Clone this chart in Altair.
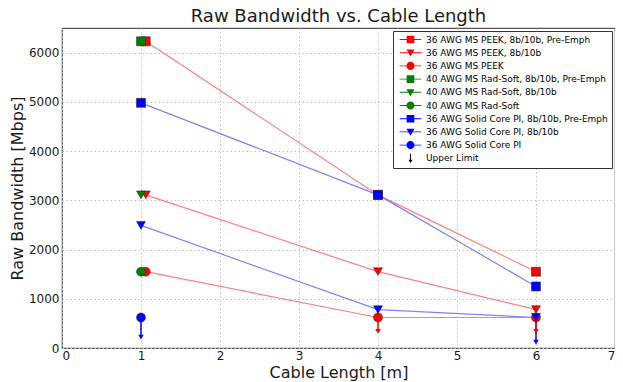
import altair as alt
import pandas as pd

series_names = [
    "36 AWG MS PEEK, 8b/10b, Pre-Emph",
    "36 AWG MS PEEK, 8b/10b",
    "36 AWG MS PEEK",
    "40 AWG MS Rad-Soft, 8b/10b, Pre-Emph",
    "40 AWG MS Rad-Soft, 8b/10b",
    "40 AWG MS Rad-Soft",
    "36 AWG Solid Core PI, 8b/10b, Pre-Emph",
    "36 AWG Solid Core PI, 8b/10b",
    "36 AWG Solid Core PI",
    "Upper Limit",
]

# Data
peek_length = [1.06, 4, 6]
peek_pre = [6230, 3110, 1550]
peek_8b = [3110, 1550, 780]
peek_plain = [1550, 620, 620]
radsoft_length = [1]
radsoft_pre = [6230]
radsoft_8b = [3110]
radsoft_plain = [1550]
pi_length = [1, 4, 6]
pi_pre = [4980, 3110, 1250]
pi_8b = [2490, 780, 620]
pi_plain_length = [1]
pi_plain = [620]

limit_series = ["36 AWG Solid Core PI", "36 AWG Solid Core PI", "36 AWG MS PEEK", "36 AWG MS PEEK"]
limit_length = [1, 6, 4, 6]
limit_top = [620, 620, 620, 620]
limit_bottom = [220, 120, 340, 340]

x_ticks = [0, 1, 2, 3, 4, 5, 6, 7]
y_ticks = [0, 1000, 2000, 3000, 4000, 5000, 6000]

# Styles
marker_colors = ["#ff0000", "#ff0000", "#ff0000", "#007f00", "#007f00", "#007f00",
                 "#0000ff", "#0000ff", "#0000ff", "#000000"]
line_colors = ["#ff8080", "#ff8080", "#ff8080", "#80bf80", "#80bf80", "#80bf80",
               "#8080ff", "#8080ff", "#8080ff", "#000000"]
marker_shapes = ["square", "triangle-down", "circle"] * 3 + ["triangle-down"]

LINE = "M-2.4,-0.1H2.4V0.1H-2.4Z"
SQ = "M-0.85,-0.85H0.85V0.85H-0.85Z"
TRI = "M-0.9,-0.7L0.9,-0.7L0,0.85Z"
CIRC = "M0.9,0A0.9,0.9,0,1,1,-0.9,0A0.9,0.9,0,1,1,0.9,0Z"
ARROW = "M-0.11,-1.0H0.11V0.4H-0.11Z M-0.45,0.3L0.45,0.3L0,1.05Z"
legend_shapes = [LINE + SQ, LINE + TRI, LINE + CIRC] * 3 + [ARROW]


def rows(name, xs, ys):
    return [{"series": name, "length": x, "bw": y} for x, y in zip(xs, ys)]


pts = pd.DataFrame(
    rows(series_names[0], peek_length, peek_pre)
    + rows(series_names[1], peek_length, peek_8b)
    + rows(series_names[2], peek_length, peek_plain)
    + rows(series_names[3], radsoft_length, radsoft_pre)
    + rows(series_names[4], radsoft_length, radsoft_8b)
    + rows(series_names[5], radsoft_length, radsoft_plain)
    + rows(series_names[6], pi_length, pi_pre)
    + rows(series_names[7], pi_length, pi_8b)
    + rows(series_names[8], pi_plain_length, pi_plain)
)
pts["order"] = range(len(pts))

limits = pd.DataFrame({"series": limit_series, "length": limit_length,
                       "top": limit_top, "bottom": limit_bottom})

FONT = "DejaVu Sans"

xenc = alt.X("length:Q", scale=alt.Scale(domain=[0, 7], nice=False),
             axis=alt.Axis(values=x_ticks, format="d", title="Cable Length [m]",
                           labelPadding=2, titlePadding=3))
yenc = alt.Y("bw:Q", scale=alt.Scale(domain=[0, 6500], nice=False),
             axis=alt.Axis(values=y_ticks, format="d", title="Raw Bandwidth [Mbps]",
                           labelPadding=3, titlePadding=3))

mcolor = alt.Scale(domain=series_names, range=marker_colors)

base = alt.Chart(pts)

lines = base.mark_line(strokeWidth=1.2).encode(
    x=xenc, y=yenc,
    color=alt.Color("series:N", scale=alt.Scale(domain=series_names, range=line_colors), legend=None),
    order="order:Q",
)

shafts = alt.Chart(limits).mark_rule(strokeWidth=1.5).encode(
    x=alt.X("length:Q"), y=alt.Y("top:Q"), y2="bottom:Q",
    color=alt.Color("series:N", scale=mcolor, legend=None),
)
heads = alt.Chart(limits).mark_point(shape="triangle-down", filled=True, size=30, opacity=1).encode(
    x=alt.X("length:Q"), y=alt.Y("bottom:Q"),
    color=alt.Color("series:N", scale=mcolor, legend=None),
)

points = base.mark_point(filled=True, size=81, opacity=1, stroke="#222222", strokeWidth=0.5).encode(
    x=xenc, y=yenc,
    color=alt.Color("series:N", scale=mcolor, legend=None),
    shape=alt.Shape("series:N", scale=alt.Scale(domain=series_names, range=marker_shapes), legend=None),
)

legend_layer = base.mark_point(filled=True, size=81, opacity=1).encode(
    x=xenc, y=yenc,
    color=alt.Color("series:N", scale=mcolor,
                    legend=alt.Legend(title=None, orient="top-right", offset=3,
                                      symbolSize=81, symbolStrokeWidth=0,
                                      symbolOffset=9, labelOffset=11,
                                      labelFont=FONT, labelFontSize=9, labelColor="#000000",
                                      rowPadding=3.2, padding=4,
                                      strokeColor="#333333", fillColor="#ffffff",
                                      cornerRadius=0, labelLimit=400)),
    shape=alt.Shape("series:N", scale=alt.Scale(domain=series_names, range=legend_shapes),
                    legend=alt.Legend(title=None, orient="top-right")),
).transform_filter("datum.bw < -100000")

chart = alt.layer(lines, shafts, heads, points, legend_layer).resolve_scale(
    color="independent", shape="independent"
).properties(
    width=553, height=320,
    autosize=alt.AutoSizeParams(type="none"),
    padding={"left": 54, "top": 20, "right": 0, "bottom": 34},
    title=alt.TitleParams("Raw Bandwidth vs. Cable Length", font=FONT, fontSize=18,
                          fontWeight="normal", anchor="middle", offset=2, color="#1a1a1a"),
).configure_view(
    stroke="#555555", strokeWidth=1.2
).configure_axis(
    labelFont=FONT, titleFont=FONT, labelFontSize=12, titleFontSize=16,
    titleFontWeight="normal", labelColor="#1a1a1a", titleColor="#1a1a1a",
    domain=False, ticks=False, grid=True, gridDash=[1.5, 2.5], gridColor="#c0c0c0",
    gridWidth=1,
)

chart.save("out.html", embed_options={"renderer": "svg", "actions": False})
